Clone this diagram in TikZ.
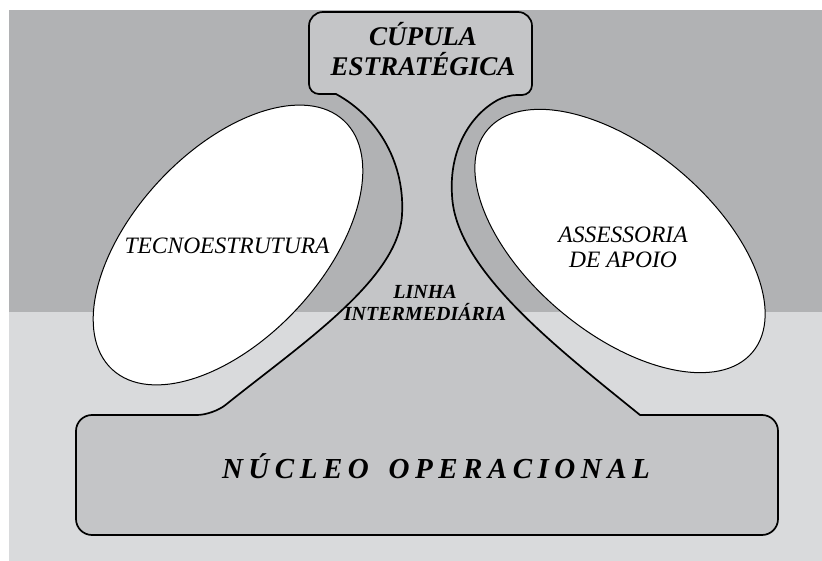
\documentclass[tikz,border=0pt]{standalone}
\usepackage{fontspec}
\setmainfont{Liberation Serif}
\usetikzlibrary{positioning}
\definecolor{bgdark}{RGB}{177,178,180}
\definecolor{bglight}{RGB}{217,218,220}
\definecolor{bodygray}{RGB}{196,197,199}

\begin{document}
\begin{tikzpicture}[x=1pt, y=-1pt,
    outline/.style={line width=1.7pt, line join=round, fill=bodygray},
    unit/.style={line width=1pt, fill=white},
    lbl/.style={font=\itshape\fontsize{23.5}{25}\selectfont, align=center, inner sep=0pt},
    boldlbl/.style={font=\bfseries\itshape\fontsize{27}{30}\selectfont, align=center, inner sep=0pt}]
    \useasboundingbox (0,0) rectangle (822,561);

    % background bands
    \fill[bgdark] (9,10) rectangle (822,312);
    \fill[bglight] (9,312) rectangle (822,561);

    % main body: cupula, neck and nucleo in one outline
    \draw[outline] (309,40) [rounded corners=14pt] -- (309,12) -- (532,12) [rounded corners=10pt] -- (532,95) -- (507,95) [sharp corners]
        .. controls (470,115) and (449,150) .. (452,195)
        .. controls (455,270) and (560,350) .. (640,415)
        [rounded corners=16pt] -- (778,415) -- (778,535) -- (76,535) -- (76,415) -- (213,415) [sharp corners]
        .. controls (300,345) and (398,280) .. (402,215)
        .. controls (405,165) and (380,118) .. (336,94)
        [rounded corners=10pt] -- (309,94) -- cycle;

    % the two side units
    \draw[unit, rotate around={47:(228,245)}] (228,245) ellipse[x radius=170, y radius=94];
    \draw[unit, rotate around={-40:(620,241)}] (620,241) ellipse[x radius=173, y radius=92];

    \node[boldlbl] (cupula) at (423,49) {CÚPULA\\ESTRATÉGICA};
    \node[lbl] (tecno) at (227,246) {TECNOESTRUTURA};
    \node[lbl] (assessoria) at (623,247) {ASSESSORIA\\DE APOIO};
    \node[boldlbl, font=\bfseries\itshape\fontsize{20}{22}\selectfont] (linha) at (425,303) {LINHA\\INTERMEDIÁRIA};
    \node[boldlbl, font=\bfseries\itshape\fontsize{29}{30}\selectfont\addfontfeature{LetterSpace=19}] (nucleo) at (436,466) {NÚCLEO\hspace{7pt} OPERACIONAL};
\end{tikzpicture}
\end{document}
